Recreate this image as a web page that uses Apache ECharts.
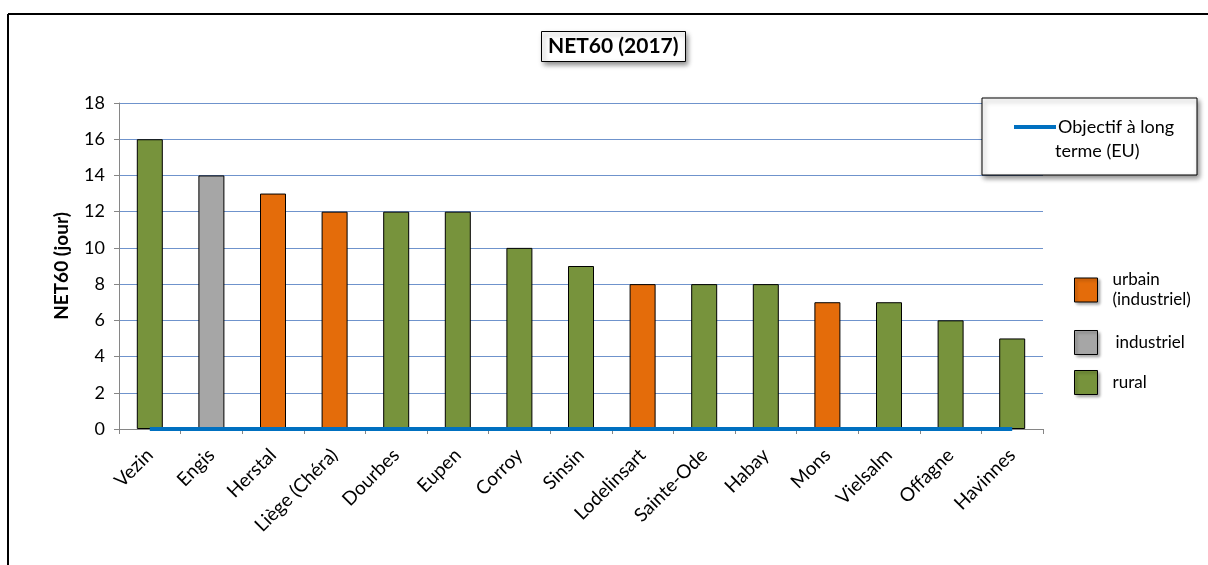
<!DOCTYPE html>
<html>
<head>
<meta charset="utf-8">
<script src="https://cdn.jsdelivr.net/npm/echarts@6/dist/echarts.min.js"></script>
<style>
  html, body { margin: 0; padding: 0; background: #fff; }
  #chart { width: 1208px; height: 565px; }
</style>
</head>
<body>
<div id="chart"></div>
<script>
const stations = ['Vezin', 'Engis', 'Herstal', 'Liège (Chéra)', 'Dourbes', 'Eupen', 'Corroy', 'Sinsin',
  'Lodelinsart', 'Sainte-Ode', 'Habay', 'Mons', 'Vielsalm', 'Offagne', 'Havinnes'];
const net60 = [16, 14, 13, 12, 12, 12, 10, 9, 8, 8, 8, 7, 7, 6, 5];
const stationType = ['rural', 'industriel', 'urbain (industriel)', 'urbain (industriel)', 'rural', 'rural', 'rural', 'rural',
  'urbain (industriel)', 'rural', 'rural', 'urbain (industriel)', 'rural', 'rural', 'rural'];
const objectifLT = [0, 0, 0, 0, 0, 0, 0, 0, 0, 0, 0, 0, 0, 0, 0];
const typeNames = ['urbain (industriel)', 'industriel', 'rural'];
const typeColors = { 'urbain (industriel)': '#E46C0A', 'industriel': '#A6A6A6', 'rural': '#77933C' };
const yTicks = { min: 0, max: 18, step: 2 };

const font = 'Lato, "Open Sans", sans-serif';
const chart = echarts.init(document.getElementById('chart'));

// one bar series per station type, overlapped so every bar sits centred on its category
const barSeries = typeNames.map(function (t) {
  return {
    name: t,
    type: 'bar',
    barWidth: 26,
    barGap: '-100%',
    itemStyle: { color: typeColors[t], borderColor: '#000', borderWidth: 1 },
    data: net60.map(function (v, i) { return stationType[i] === t ? v : '-'; })
  };
});

// the colour key: one small legend per entry so each square sits where Excel put it
const keyTops = [265, 325, 365];
const keyLegends = typeNames.map(function (t, i) {
  return {
    data: [t],
    left: 1069,
    top: keyTops[i],
    icon: 'rect',
    itemWidth: 23,
    itemHeight: 24,
    itemStyle: { borderColor: '#000', borderWidth: 1, shadowBlur: 3, shadowColor: 'rgba(0,0,0,0.35)', shadowOffsetX: 2, shadowOffsetY: 2 },
    formatter: function (name) { return name === 'urbain (industriel)' ? 'urbain\n(industriel)' : name; },
    textStyle: { fontFamily: font, fontSize: 17, color: '#000', lineHeight: 20, padding: [0, 0, 0, t === 'industriel' ? 13 : 10] }
  };
});

chart.setOption({
  animation: false,
  textStyle: { fontFamily: font },
  title: {
    text: 'NET60 (2017)',
    left: 541,
    top: 31,
    padding: [5, 7, 5, 7],
    borderColor: '#000',
    borderWidth: 1,
    backgroundColor: '#fff',
    shadowBlur: 5,
    shadowColor: 'rgba(0,0,0,0.45)',
    shadowOffsetX: 2,
    shadowOffsetY: 3,
    textStyle: { fontFamily: font, fontWeight: 'bold', fontSize: 21, color: '#000' }
  },
  grid: { left: 119, right: 165, top: 103, bottom: 136, containLabel: false },
  graphic: [
    { type: 'line', shape: { x1: 8, y1: 14, x2: 1208, y2: 14 }, style: { stroke: '#000', lineWidth: 2 } },
    { type: 'line', shape: { x1: 8, y1: 14, x2: 8, y2: 565 }, style: { stroke: '#000', lineWidth: 2 } },
    {
      type: 'rect', z: 5,
      shape: { x: 982, y: 98, width: 215, height: 77 },
      style: { fill: '#fff', stroke: '#000', lineWidth: 1, shadowBlur: 5, shadowColor: 'rgba(0,0,0,0.45)', shadowOffsetX: 2, shadowOffsetY: 3 }
    },
    {
      type: 'text', z: 11, left: 1055, top: 142,
      style: { text: 'terme (EU)', fontFamily: font, fontSize: 18, fill: '#000' }
    }
  ],
  legend: [
    {
      data: ['Objectif à long terme (EU)'],
      left: 1009,
      top: 113,
      icon: 'rect',
      itemWidth: 42,
      itemHeight: 4,
      z: 10,
      itemStyle: { color: '#0070C0' },
      formatter: function () { return 'Objectif à long'; },
      textStyle: { fontFamily: font, fontSize: 18, color: '#000', padding: [0, 0, 0, -3] }
    }
  ].concat(keyLegends),
  xAxis: {
    type: 'category',
    data: stations,
    boundaryGap: true,
    axisLine: { lineStyle: { color: '#868686', width: 1 } },
    axisTick: { show: true, length: 5, alignWithLabel: false, lineStyle: { color: '#868686' } },
    axisLabel: { rotate: 45, interval: 0, margin: 23, fontSize: 19, color: '#000', fontFamily: font }
  },
  yAxis: {
    type: 'value',
    min: yTicks.min,
    max: yTicks.max,
    interval: yTicks.step,
    name: 'NET60 (jour)',
    nameLocation: 'middle',
    nameGap: 48,
    nameRotate: 90,
    nameTextStyle: { fontFamily: font, fontWeight: 'bold', fontSize: 19, color: '#000' },
    axisLine: { show: true, lineStyle: { color: '#868686' } },
    axisTick: { show: true, length: 5, lineStyle: { color: '#868686' } },
    axisLabel: { fontSize: 18, color: '#000', margin: 14, fontFamily: font },
    splitLine: { lineStyle: { color: '#6F93CC', width: 1 } }
  },
  series: barSeries.concat([
    {
      name: 'Objectif à long terme (EU)',
      type: 'line',
      symbol: 'none',
      z: 5,
      lineStyle: { color: '#0070C0', width: 4 },
      itemStyle: { color: '#0070C0' },
      data: objectifLT
    }
  ])
});
</script>
</body>
</html>
